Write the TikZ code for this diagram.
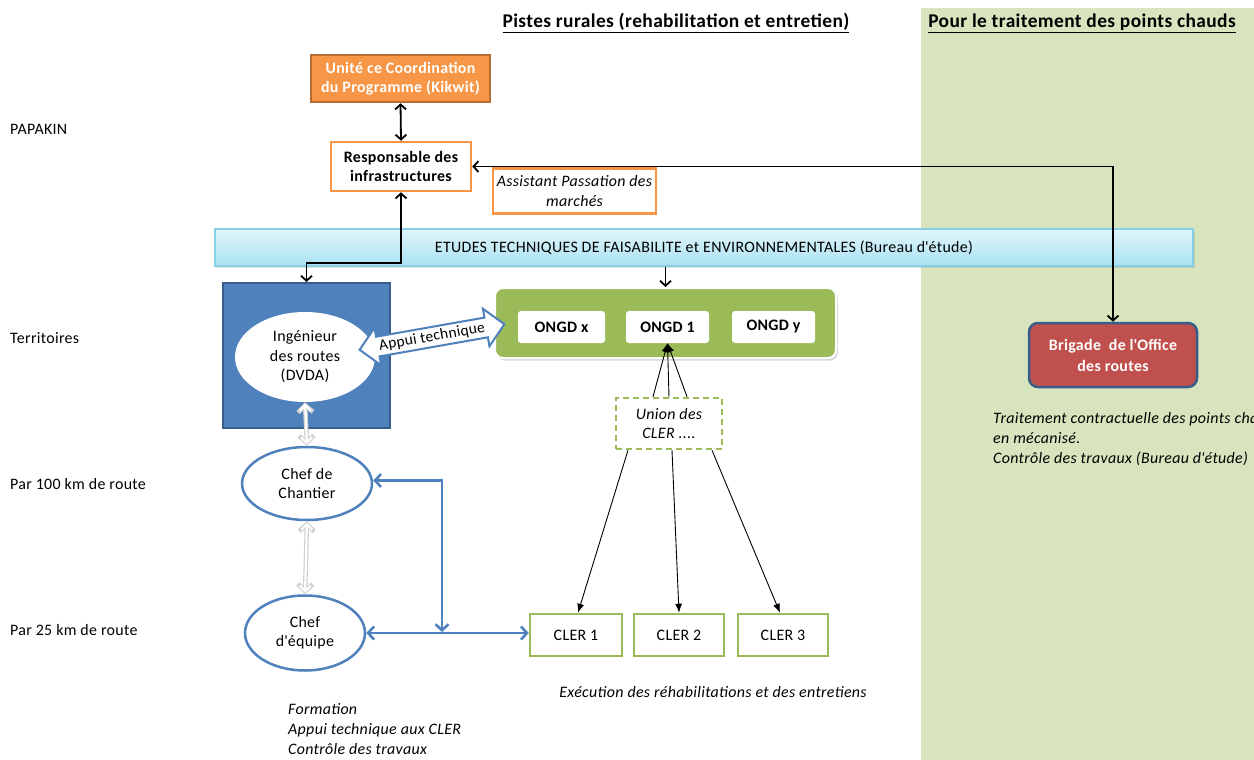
\documentclass[tikz,border=0pt]{standalone}
\usepackage{fontspec}
\setmainfont{Carlito}[LetterSpace=2]
\usetikzlibrary{arrows.meta,shapes.geometric,shadows,calc}

\definecolor{panelgreen}{HTML}{D7E4BD}
\definecolor{orangefill}{HTML}{F79646}
\definecolor{orangedark}{HTML}{B66D31}
\definecolor{bluefill}{HTML}{4F81BD}
\definecolor{bluedark}{HTML}{385D8A}
\definecolor{greenfill}{HTML}{9BBB59}
\definecolor{redfill}{HTML}{C0504D}
\definecolor{cyantop}{HTML}{E2F6FC}
\definecolor{cyanbot}{HTML}{A9E1F2}
\definecolor{cyanline}{HTML}{86CFE6}
\definecolor{graylink}{HTML}{D0D0D0}

\newcommand{\apos}{\textquotesingle}

\tikzset{
  base/.style={font=\fontsize{16}{19.5}\selectfont, align=center, inner sep=1bp},
  lefttext/.style={font=\fontsize{16}{19}\selectfont, anchor=west, inner sep=0pt},
  notetext/.style={font=\fontsize{16}{20}\selectfont\itshape, anchor=north west, align=left, inner sep=0pt},
  titletext/.style={font=\fontsize{19.5}{22}\selectfont\bfseries, inner sep=0pt},
  orangebox/.style={base, draw=orangefill, line width=2.5bp, fill=white},
  clerbox/.style={base, draw=greenfill, line width=2.5bp, fill=white, minimum width=90bp, minimum height=42bp},
  ongdbox/.style={base, font=\fontsize{16}{19}\selectfont\bfseries, fill=white, rounded corners=3bp, minimum height=32bp},
  blueell/.style={base, ellipse, draw=bluefill, line width=2.5bp, fill=white},
  blockarrow/.style={draw=bluefill, line width=2bp, fill=white, line join=miter},
  blk/.style={line width=1.8bp, {Straight Barb[length=5bp,width=11bp]}-{Straight Barb[length=5bp,width=11bp]}},
  blkone/.style={line width=1.8bp, -{Straight Barb[length=5bp,width=11bp]}},
  thin/.style={line width=0.9bp, -{Latex[length=9bp,width=7bp]}},
  bluelink/.style={draw=bluefill, line width=2.6bp, {Straight Barb[length=6bp,width=13bp]}-{Straight Barb[length=6bp,width=13bp]}},
  grayouter/.style={draw=graylink, line width=4.5bp, {Straight Barb[length=7bp,width=15bp]}-{Straight Barb[length=7bp,width=15bp]}},
  grayinner/.style={draw=white, line width=2.2bp, shorten <=1.4bp, shorten >=1.4bp, {Straight Barb[length=5.5bp,width=11bp]}-{Straight Barb[length=5.5bp,width=11bp]}},
}

\begin{document}
\begin{tikzpicture}[x=1bp, y=-1bp]
  \clip (0,0) rectangle (1254,760);
  \fill[white] (0,0) rectangle (1254,760);
  % right-hand panel
  \fill[panelgreen] (921,8) rectangle (1254,760);

  % column titles
  \node[titletext] (t1) at (676,23) {\underline{Pistes rurales (rehabilitation et entretien)}};
  \node[titletext] (t2) at (1082,23) {\underline{Pour le traitement des points chauds}};

  % level labels
  \node[lefttext] (l1) at (10,129) {PAPAKIN};
  \node[lefttext] (l2) at (10,338) {Territoires};
  \node[lefttext] (l3) at (10,484) {Par 100 km de route};
  \node[lefttext] (l4) at (10,630) {Par 25 km de route};

  % programme management
  \node[base, font=\fontsize{16}{19.5}\selectfont\bfseries, text=white, fill=orangefill, draw=orangedark,
        line width=2.5bp, minimum width=179bp, minimum height=47bp] (ucp) at (400.5,78.5)
        {Unité ce Coordination\\du Programme (Kikwit)};
  \node[orangebox, font=\fontsize{16}{19.5}\selectfont\bfseries, minimum width=140bp, minimum height=49bp] (resp) at (401,166.5)
        {Responsable des\\infrastructures};
  \node[orangebox, font=\fontsize{16}{20}\selectfont\itshape, minimum width=163bp, minimum height=45bp] (ass) at (574.5,191)
        {Assistant Passation des\\marchés};

  % studies bar
  \node[base, draw=cyanline, line width=1.2bp, top color=cyantop, bottom color=cyanbot,
        minimum width=978bp, minimum height=37bp,
        drop shadow={opacity=0.25, shadow xshift=2bp, shadow yshift=-2bp}] (etu) at (704,247.5)
        {ETUDES TECHNIQUES DE FAISABILITE et ENVIRONNEMENTALES (Bureau d\apos étude)};

  % road engineer
  \node[fill=bluefill, draw=bluedark, line width=2bp, minimum width=167bp, minimum height=145bp] (dvda) at (306.5,355.5) {};
  \node[base, ellipse, fill=white, inner sep=0pt, minimum width=140bp, minimum height=90bp] (ing) at (305,357)
        {Ingénieur\\des routes\\(DVDA)};

  % NGO group
  \node[fill=greenfill, draw=white, line width=2bp, rounded corners=8bp, minimum width=341bp, minimum height=70bp,
        drop shadow={opacity=0.3, shadow xshift=2bp, shadow yshift=-2.5bp}] (ongd) at (665.5,323) {};
  \node[ongdbox, minimum width=87bp] (ox) at (561.5,327) {ONGD x};
  \node[ongdbox, minimum width=83bp] (o1) at (667.5,327) {ONGD 1};
  \node[ongdbox, minimum width=83bp] (oy) at (773.5,327) {ONGD y};

  % technical support: two-headed block arrow between engineer and NGOs
  \begin{scope}[shift={(432,337)}, rotate=10]
    \draw[blockarrow] (-73.5,0) -- (-55,-19) -- (-55,-10) -- (55,-10) -- (55,-19) -- (73.5,0)
                      -- (55,19) -- (55,10) -- (-55,10) -- (-55,19) -- cycle;
    \node[base, font=\fontsize{15.5}{16}\selectfont, rotate=10, inner sep=0pt] (appui) at (0,0) {Appui technique};
  \end{scope}

  % union of CLER
  \node[base, font=\fontsize{16}{20}\selectfont\itshape, draw=greenfill, line width=2.5bp, fill=white,
        dash pattern=on 6bp off 4bp, minimum width=106bp, minimum height=51bp] (uni) at (669,423.5)
        {Union des\\CLER ....};

  % CLER units
  \node[clerbox, minimum width=92bp] (c1) at (576,635) {CLER 1};
  \node[clerbox] (c2) at (679,635) {CLER 2};
  \node[clerbox] (c3) at (783,635) {CLER 3};

  % site supervisors
  \node[blueell, inner sep=0pt, minimum width=130bp, minimum height=73bp] (chan) at (307,483.5) {Chef de\\Chantier};
  \node[blueell, inner sep=0pt, minimum width=120bp, minimum height=75bp] (equ) at (305,633) {Chef\\d\apos équipe};

  % roads office brigade
  \node[base, font=\fontsize{16}{21}\selectfont\bfseries, text=white, fill=redfill, draw=bluedark, line width=2.5bp,
        rounded corners=9bp, minimum width=168bp, minimum height=64bp] (brig) at (1113,355)
        {Brigade~ de l\apos Office\\des routes};

  % notes
  \node[notetext] (n1) at (993,412) {Traitement contractuelle des points chauds\\en mécanisé.\\Contrôle des travaux (Bureau d\apos étude)};
  \node[base, font=\fontsize{16}{19}\selectfont\itshape] (n2) at (713,692) {Exécution des réhabilitations et des entretiens};
  \node[notetext] (n3) at (288,703) {Formation\\Appui technique aux CLER\\Contrôle des travaux};

  % black links
  \draw[blk] (ucp.south) -- (resp.north);
  \draw[blk] (resp.south) -- ++(0,71) -| (dvda.north);
  \draw[blk] (resp.east) -| (brig.north);
  \draw[blkone] (etu.south -| ongd.north) -- (ongd.north);

  % union to NGO and to CLER
  \draw[thin] ([xshift=-16bp]uni.north) -- (o1.south);
  \draw[thin] ([xshift=0bp]uni.north) -- (o1.south);
  \draw[thin] ([xshift=18bp]uni.north) -- (o1.south);
  \draw[thin] ([xshift=-41bp]uni.south) -- ([xshift=2bp]c1.north);
  \draw[thin] ([xshift=3bp]uni.south) -- (c2.north);
  \draw[thin] ([xshift=43bp]uni.south) -- ([xshift=-3bp]c3.north);

  % hierarchy links (light)
  \draw[grayouter] (ing.south) -- (chan.north);
  \draw[grayinner] (ing.south) -- (chan.north);
  \draw[grayouter] (chan.south) -- (equ.north);
  \draw[grayinner] (chan.south) -- (equ.north);

  % supervision links (blue)
  \coordinate (jn) at (442,632);
  \draw[bluelink] ([yshift=3bp]chan.east) -| (jn);
  \draw[bluelink] (equ.east) -- (equ.east -| c1.west);
\end{tikzpicture}
\end{document}
